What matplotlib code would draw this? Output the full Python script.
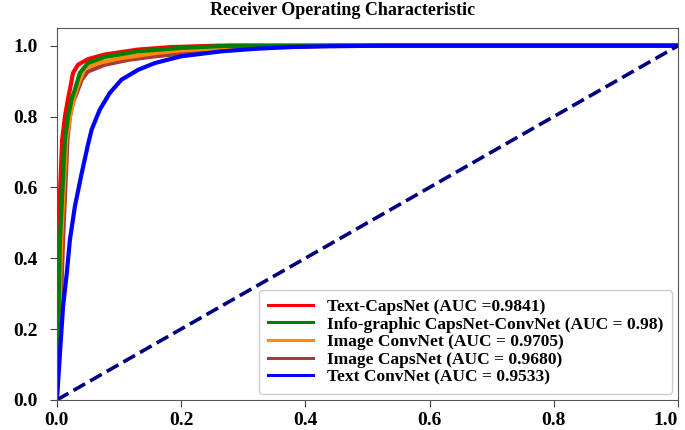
import matplotlib
matplotlib.use("Agg")
from matplotlib import pyplot as plt

plt.rcParams["font.family"] = ["Liberation Serif", "DejaVu Serif"]
plt.rcParams["font.weight"] = "bold"

# ROC points (fpr, tpr)
red_fpr = [0.0, 0.002, 0.0085, 0.013, 0.018, 0.021, 0.026, 0.034, 0.05, 0.077, 0.131, 0.184, 0.26, 0.5, 1.0]
red_tpr = [0.0, 0.452, 0.734, 0.80, 0.85, 0.876, 0.923, 0.946, 0.962, 0.975, 0.989, 0.996, 1.0, 1.0, 1.0]

green_fpr = [0.0, 0.005, 0.013, 0.018, 0.024, 0.029, 0.037, 0.05, 0.077, 0.131, 0.195, 0.28, 0.5, 1.0]
green_tpr = [0.0, 0.452, 0.734, 0.80, 0.85, 0.876, 0.923, 0.951, 0.968, 0.984, 0.993, 1.0, 1.0, 1.0]

orange_fpr = [0.0, 0.007, 0.015, 0.021, 0.027, 0.034, 0.045, 0.066, 0.104, 0.158, 0.20, 0.3, 0.45, 1.0]
orange_tpr = [0.0, 0.452, 0.734, 0.80, 0.85, 0.89, 0.937, 0.951, 0.965, 0.979, 0.987, 0.996, 1.0, 1.0]

brown_fpr = [0.0, 0.003, 0.0064, 0.010, 0.017, 0.021, 0.026, 0.034, 0.040, 0.05, 0.077, 0.115, 0.158, 0.21, 0.318, 0.45, 1.0]
brown_tpr = [0.0, 0.14, 0.264, 0.452, 0.734, 0.80, 0.84, 0.876, 0.904, 0.927, 0.946, 0.960, 0.970, 0.979, 0.993, 1.0, 1.0]

blue_fpr = [0.0, 0.003, 0.0064, 0.010, 0.016, 0.021, 0.029, 0.040, 0.050, 0.056, 0.069, 0.085, 0.104, 0.131, 0.158,
            0.20, 0.265, 0.318, 0.372, 0.426, 0.527, 1.0]
blue_tpr = [0.0, 0.076, 0.169, 0.264, 0.358, 0.452, 0.546, 0.64, 0.72, 0.763, 0.819, 0.866, 0.904, 0.932, 0.951,
            0.970, 0.984, 0.991, 0.996, 0.998, 1.0, 1.0]

labels = [
    "Text-CapsNet (AUC =0.9841)",
    "Info-graphic CapsNet-ConvNet (AUC = 0.98)",
    "Image ConvNet (AUC = 0.9705)",
    "Image CapsNet (AUC = 0.9680)",
    "Text ConvNet (AUC = 0.9533)",
]
xticks = [0, 0.2, 0.4, 0.6, 0.8, 1.0]
xtick_labels = ["0.0", "0.2", "0.4", "0.6", "0.8", "1.0"]

fig = plt.figure(figsize=(6.85, 4.30), dpi=100)
ax = fig.add_axes([0.083, 0.07, 0.907, 0.865])

lw = 3.0
l_brown, = ax.plot(brown_fpr, brown_tpr, color="#a83a3a", lw=lw, label=labels[3])
l_orange, = ax.plot(orange_fpr, orange_tpr, color="darkorange", lw=lw, label=labels[2])
l_red, = ax.plot(red_fpr, red_tpr, color="red", lw=lw, label=labels[0])
l_green, = ax.plot(green_fpr, green_tpr, color="green", lw=lw, label=labels[1])
l_blue, = ax.plot(blue_fpr, blue_tpr, color="blue", lw=lw, label=labels[4])
ax.plot([0, 1], [0, 1], color="navy", lw=2.6, linestyle="--")

ax.set_xlim(0, 1)
ax.set_ylim(0, 1.05)
fig.suptitle("Receiver Operating Characteristic", fontsize=13, fontweight="bold", x=0.5, y=0.995)
ax.tick_params(labelsize=14, length=5, color="#444444")
ax.tick_params(axis="y", pad=9)
ax.set_xticks(xticks)
ax.set_xticklabels(xtick_labels)
ax.get_xticklabels()[-1].set_horizontalalignment("right")
for s in ax.spines.values():
    s.set_color("#555555")

leg = ax.legend(handles=[l_red, l_green, l_orange, l_brown, l_blue],
                loc="lower right", prop={"weight": "bold", "size": 12.5},
                handlelength=2.6, labelspacing=0.08, borderaxespad=0.35, framealpha=1,
                borderpad=0.5)
for h in leg.get_lines():
    h.set_linewidth(2.2)

fig.savefig("out.png", dpi=100)
